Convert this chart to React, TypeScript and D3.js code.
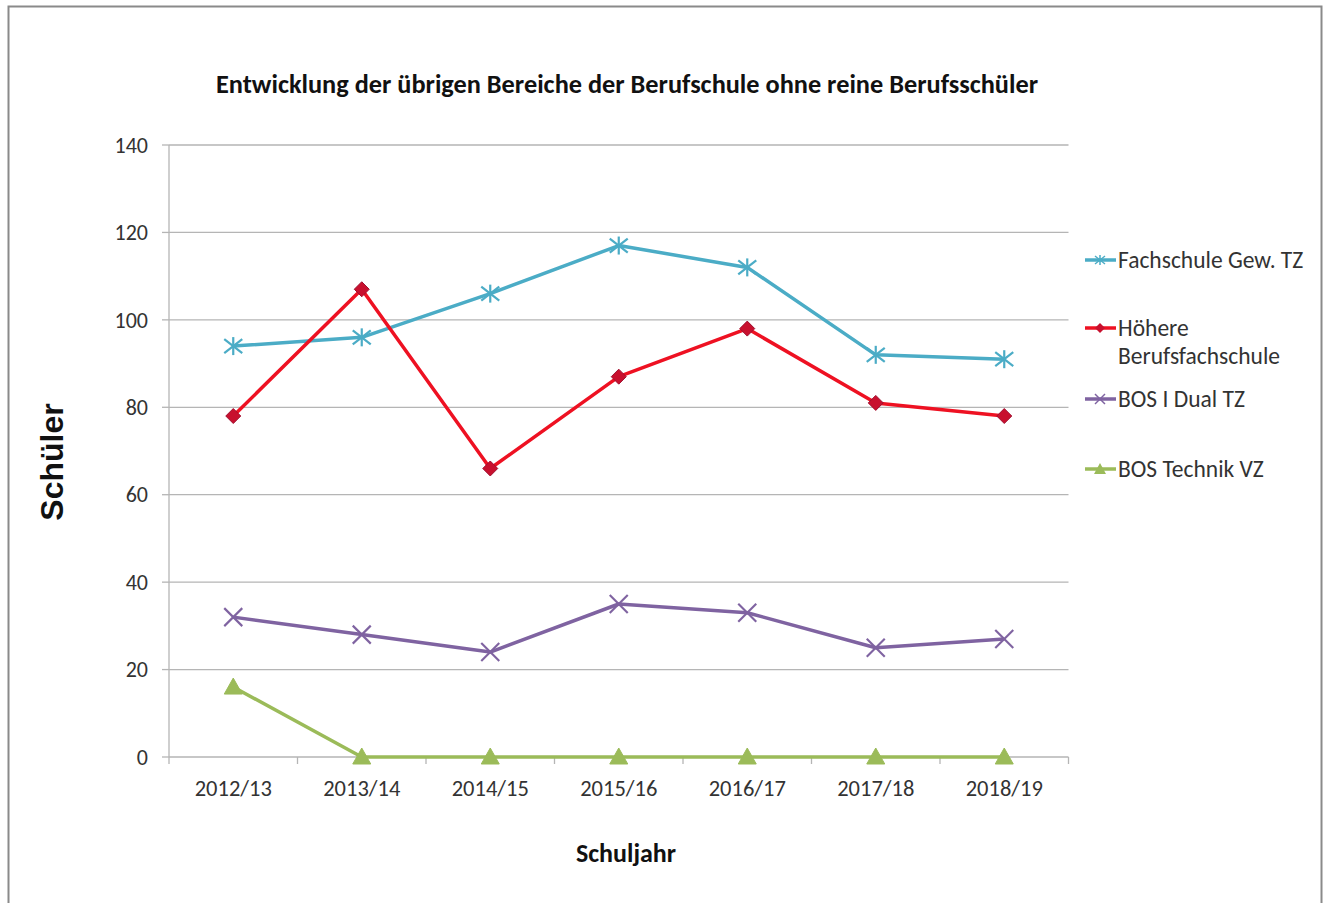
import React from "react";
import * as d3 from "d3";

const categories = ["2012/13", "2013/14", "2014/15", "2015/16", "2016/17", "2017/18", "2018/19"];
const fachschule = [94, 96, 106, 117, 112, 92, 91];
const hoehere = [78, 107, 66, 87, 98, 81, 78];
const bosDual = [32, 28, 24, 35, 33, 25, 27];
const bosTechnik = [16, 0, 0, 0, 0, 0, 0];
const yTicks = [0, 20, 40, 60, 80, 100, 120, 140];

const series = [
  { name: ["Fachschule Gew. TZ"], values: fachschule, color: "#4BACC6", marker: "star", ly: 260 },
  { name: ["Höhere", "Berufsfachschule"], values: hoehere, color: "#EE1122", marker: "diamond", ly: 328 },
  { name: ["BOS I Dual TZ"], values: bosDual, color: "#7F63A1", marker: "x", ly: 399 },
  { name: ["BOS Technik VZ"], values: bosTechnik, color: "#9BBB59", marker: "triangle", ly: 469 },
];

const FONT = "Carlito, 'Open Sans', 'Noto Sans', sans-serif";

function Marker({ type, x, y, color }: { type: string; x: number; y: number; color: string }) {
  if (type === "star") {
    const r = 9;
    return (
      <g stroke={color} strokeWidth={2.2}>
        <line x1={x - r} y1={y - r + 2} x2={x + r} y2={y + r - 2} />
        <line x1={x - r} y1={y + r - 2} x2={x + r} y2={y - r + 2} />
        <line x1={x} y1={y - r} x2={x} y2={y + r} />
      </g>
    );
  }
  if (type === "x") {
    const r = 9;
    return (
      <g stroke={color} strokeWidth={2.2}>
        <line x1={x - r} y1={y - r} x2={x + r} y2={y + r} />
        <line x1={x - r} y1={y + r} x2={x + r} y2={y - r} />
      </g>
    );
  }
  if (type === "diamond") {
    const r = 7.5;
    return <path d={`M${x},${y - r}L${x + r},${y}L${x},${y + r}L${x - r},${y}Z`} fill="#C8102E" stroke="#A01030" strokeWidth={1} />;
  }
  const r = 9;
  return <path d={`M${x},${y - r}L${x + r},${y + r - 2}L${x - r},${y + r - 2}Z`} fill={color} stroke={color} strokeWidth={1} />;
}

function LegendMarker({ type, x, y, color }: { type: string; x: number; y: number; color: string }) {
  if (type === "star") {
    const r = 5;
    return (
      <g stroke={color} strokeWidth={1.5}>
        <line x1={x - r} y1={y - r + 1} x2={x + r} y2={y + r - 1} />
        <line x1={x - r} y1={y + r - 1} x2={x + r} y2={y - r + 1} />
        <line x1={x} y1={y - r} x2={x} y2={y + r} />
      </g>
    );
  }
  if (type === "x") {
    const r = 5;
    return (
      <g stroke={color} strokeWidth={1.5}>
        <line x1={x - r} y1={y - r} x2={x + r} y2={y + r} />
        <line x1={x - r} y1={y + r} x2={x + r} y2={y - r} />
      </g>
    );
  }
  if (type === "diamond") {
    const r = 5;
    return <path d={`M${x},${y - r}L${x + r},${y}L${x},${y + r}L${x - r},${y}Z`} fill="#C8102E" />;
  }
  const r = 6;
  return <path d={`M${x},${y - r}L${x + r},${y + r - 1}L${x - r},${y + r - 1}Z`} fill={color} />;
}

export default function App() {
  const W = 1330, H = 903;
  const left = 169, right = 1068.5, top = 145, bottom = 757;
  const x = d3.scaleBand().domain(categories).range([left, right]);
  const y = d3.scaleLinear().domain([0, 140]).range([bottom, top]);
  const cx = (c: string) => (x(c) as number) + x.bandwidth() / 2;
  const line = d3.line<number>().x((_, i) => cx(categories[i])).y((v) => y(v));

  return (
    <svg width={W} height={H} style={{ position: "absolute", left: 0, top: 0 }} fontFamily={FONT}>
      <rect x={0} y={0} width={W} height={H} fill="#fff" />
      <rect x={8.5} y={6.5} width={1313} height={H} fill="#fff" stroke="#8a8a8a" strokeWidth={2} />
      <text x={627} y={84} dy="0.35em" textAnchor="middle" fontSize={26} fontWeight="bold" fill="#111" textLength={822} lengthAdjust="spacingAndGlyphs">
        Entwicklung der übrigen Bereiche der Berufschule ohne reine Berufsschüler
      </text>
      {yTicks.map((t) => (
        <g key={t}>
          <line x1={left} x2={right} y1={y(t)} y2={y(t)} stroke="#b5b5b5" strokeWidth={1.3} />
          <line x1={162} x2={left} y1={y(t)} y2={y(t)} stroke="#b5b5b5" strokeWidth={1.3} />
          <text x={148} y={y(t)} dy="0.35em" textAnchor="end" fontSize={22} fill="#333">{t}</text>
        </g>
      ))}
      <line x1={left} x2={left} y1={top} y2={bottom} stroke="#b5b5b5" strokeWidth={1.3} />
      {d3.range(categories.length + 1).map((i) => {
        const xx = left + i * x.bandwidth();
        return <line key={i} x1={xx} x2={xx} y1={bottom} y2={bottom + 7} stroke="#b5b5b5" strokeWidth={1.3} />;
      })}
      {categories.map((c) => (
        <text key={c} x={cx(c)} y={788} dy="0.35em" textAnchor="middle" fontSize={22.5} fill="#333">{c}</text>
      ))}
      <text x={626} y={853} dy="0.35em" textAnchor="middle" fontSize={26} fontWeight="bold" fill="#111">Schuljahr</text>
      <text transform="translate(52,462) rotate(-90)" textAnchor="middle" dy="0.35em" fontSize={32} fontWeight="bold" fontFamily="'Liberation Sans', Arial, sans-serif" fill="#111">Schüler</text>
      {series.map((s) => (
        <g key={s.name.join(" ")}>
          <path d={line(s.values) || ""} fill="none" stroke={s.color} strokeWidth={3.5} strokeLinejoin="round" />
          {s.values.map((v, i) => (
            <Marker key={i} type={s.marker} x={cx(categories[i])} y={y(v)} color={s.color} />
          ))}
        </g>
      ))}
      {series.map((s) => (
        <g key={"lg" + s.name.join(" ")}>
          <line x1={1085} x2={1116} y1={s.ly} y2={s.ly} stroke={s.color} strokeWidth={3.5} />
          <LegendMarker type={s.marker} x={1100} y={s.ly} color={s.color} />
          {s.name.map((n, j) => (
            <text key={n} x={1118} y={s.ly + j * 28} dy="0.35em" fontSize={23.5} fill="#333">{n}</text>
          ))}
        </g>
      ))}
    </svg>
  );
}
